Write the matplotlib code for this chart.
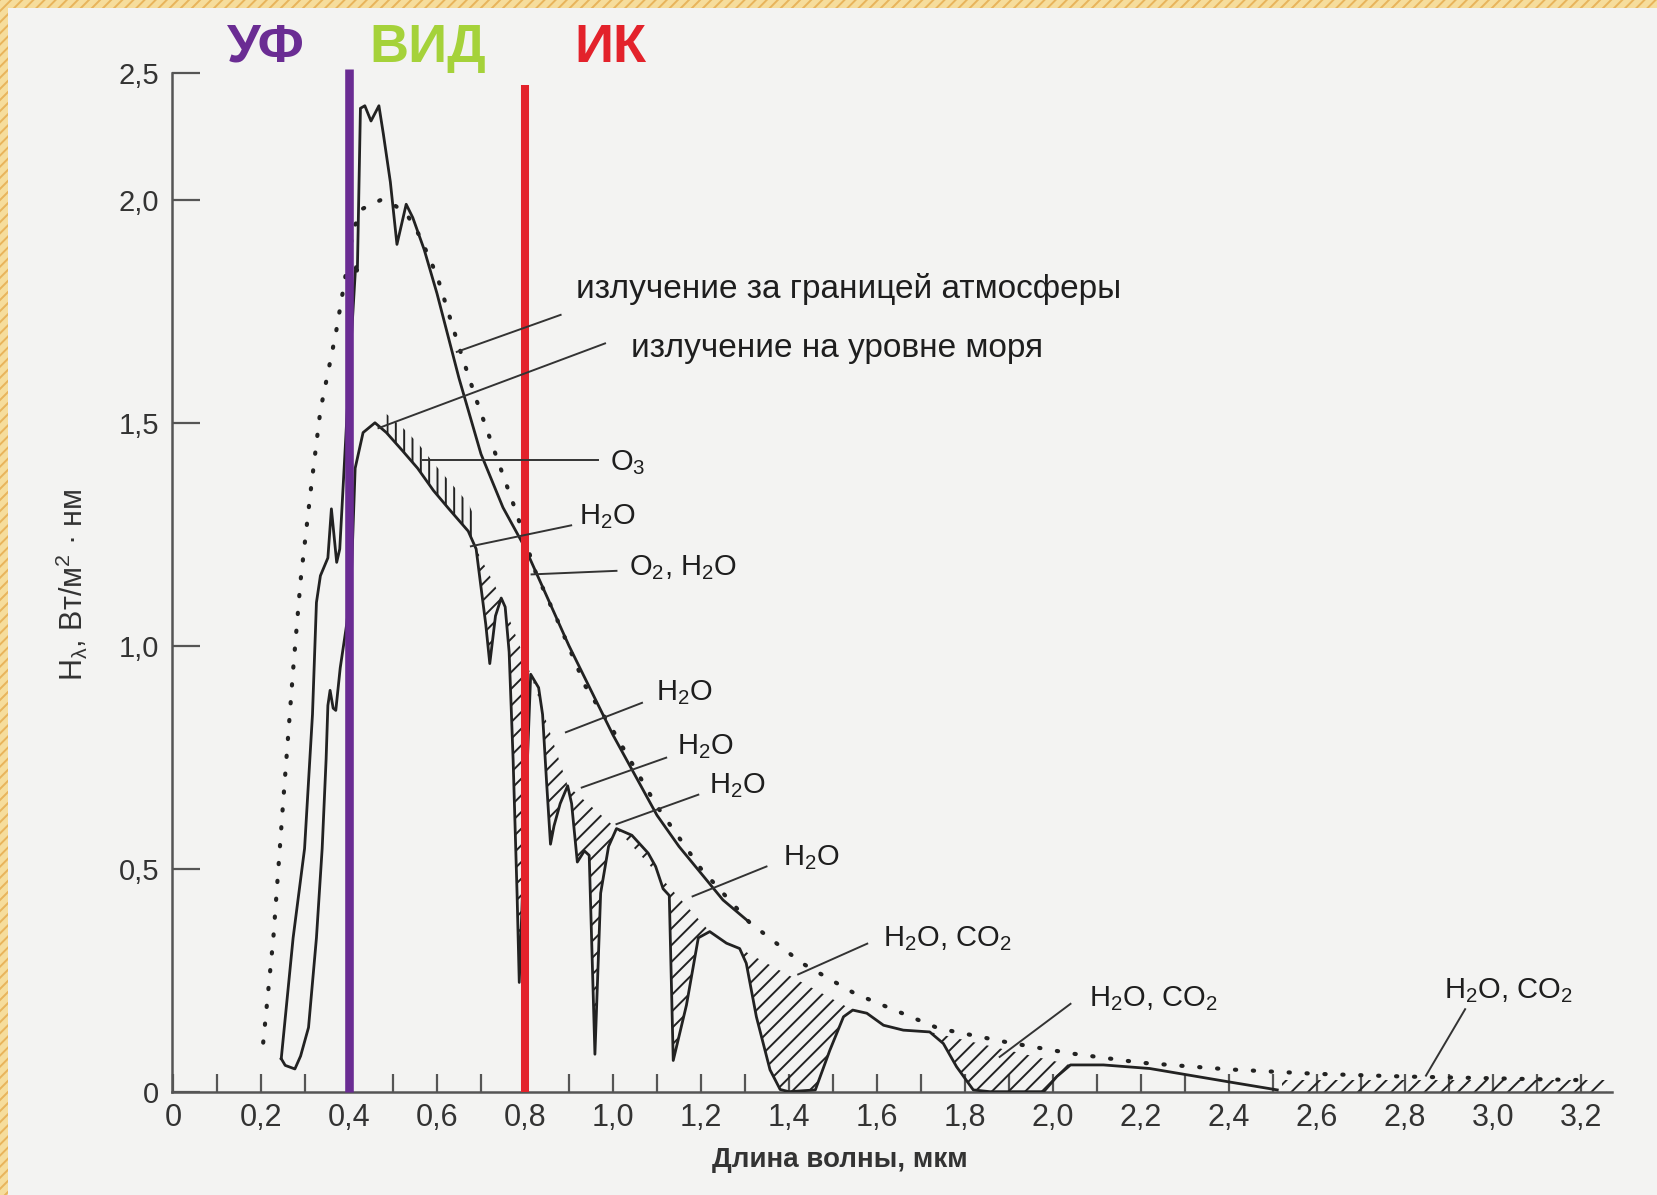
import matplotlib.pyplot as plt
import numpy as np
from matplotlib.patches import Rectangle

plt.rcParams["font.family"] = ["Liberation Sans", "DejaVu Sans"]
plt.rcParams["mathtext.fontset"] = "custom"
plt.rcParams["mathtext.rm"] = "Liberation Sans"
plt.rcParams["mathtext.it"] = "Liberation Sans:italic"
plt.rcParams["hatch.linewidth"] = 1.4

# blackbody-like dotted curve (x in um, y in W/m2/nm)
DOT_X = [0.205, 0.228, 0.25, 0.273, 0.29, 0.313, 0.335, 0.37, 0.41, 0.431, 0.473, 0.50, 0.53,
         0.56, 0.60, 0.65, 0.69, 0.733, 0.78, 0.822, 0.877, 0.937, 1.0, 1.1, 1.2, 1.31, 1.43,
         1.55, 1.74, 1.9, 2.04, 2.2, 2.4, 2.6, 2.8, 3.0, 3.2]
DOT_Y = [0.11, 0.344, 0.645, 0.946, 1.147, 1.348, 1.528, 1.70, 1.935, 1.98, 2.0, 1.99, 1.97,
         1.92, 1.83, 1.67, 1.55, 1.43, 1.30, 1.17, 1.05, 0.91, 0.81, 0.64, 0.50, 0.38, 0.288,
         0.22, 0.142, 0.11, 0.086, 0.065, 0.05, 0.04, 0.034, 0.03, 0.026]

# radiation outside the atmosphere (solid)
ET_X = [0.246, 0.273, 0.299, 0.317, 0.326, 0.335, 0.352, 0.36, 0.366, 0.372, 0.379, 0.40,
        0.415, 0.419, 0.426, 0.436, 0.45, 0.468, 0.478, 0.494, 0.509, 0.53, 0.545, 0.571,
        0.60, 0.65, 0.70, 0.75, 0.80, 0.85, 0.90, 0.95, 1.0, 1.05, 1.1, 1.15, 1.2, 1.25, 1.31]
ET_Y = [0.074, 0.345, 0.545, 0.846, 1.097, 1.157, 1.197, 1.307, 1.247, 1.187, 1.217, 1.60,
        1.85, 1.84, 2.36, 2.37, 2.31, 2.37, 2.26, 2.07, 1.90, 1.99, 1.96, 1.888,
        1.79, 1.60, 1.43, 1.31, 1.22, 1.11, 1.00, 0.90, 0.80, 0.71, 0.62, 0.55, 0.49, 0.43, 0.38]

# radiation at sea level (solid)
SEA_X = [0.246, 0.255, 0.277, 0.29, 0.308, 0.326, 0.339, 0.348, 0.352, 0.357, 0.364, 0.37,
         0.38, 0.395, 0.405, 0.414, 0.432, 0.459, 0.485, 0.521, 0.556, 0.592, 0.627, 0.671,
         0.689, 0.698, 0.711, 0.72, 0.733, 0.746, 0.755, 0.764, 0.773, 0.782, 0.787, 0.80,
         0.813, 0.831, 0.84, 0.849, 0.858, 0.866, 0.88, 0.897, 0.906, 0.919, 0.935, 0.946,
         0.959, 0.972, 0.99, 1.008, 1.043, 1.08, 1.097, 1.114, 1.128, 1.137, 1.167, 1.194,
         1.22, 1.258, 1.288, 1.303, 1.326, 1.357, 1.38, 1.40, 1.46, 1.493, 1.524, 1.545,
         1.577, 1.615, 1.66, 1.72, 1.751, 1.781, 1.819, 1.857, 1.979, 2.009, 2.04, 2.115,
         2.22, 2.31, 2.40, 2.51]
SEA_Y = [0.074, 0.059, 0.051, 0.08, 0.144, 0.345, 0.545, 0.746, 0.866, 0.90, 0.86, 0.855,
         0.95, 1.05, 1.147, 1.398, 1.478, 1.50, 1.478, 1.438, 1.398, 1.348, 1.307, 1.257,
         1.217, 1.147, 1.047, 0.96, 1.067, 1.107, 1.087, 0.986, 0.746, 0.445, 0.245, 0.60,
         0.936, 0.906, 0.846, 0.696, 0.555, 0.596, 0.646, 0.686, 0.646, 0.515, 0.54, 0.53,
         0.084, 0.445, 0.55, 0.59, 0.575, 0.535, 0.505, 0.455, 0.44, 0.07, 0.194, 0.345,
         0.359, 0.333, 0.321, 0.288, 0.168, 0.049, 0.005, 0.0, 0.004, 0.093, 0.168, 0.183,
         0.176, 0.149, 0.138, 0.134, 0.108, 0.056, 0.004, 0.0, 0.0, 0.034, 0.06, 0.06,
         0.052, 0.037, 0.022, 0.004]

# absorption bands: hatched between the sea-level curve and the chord joining its ends
BANDS = [(0.689, 0.746), (0.746, 0.813), (0.813, 0.897), (0.897, 1.008),
         (1.008, 1.22), (1.288, 1.545), (1.72, 2.04)]
O3_X = [0.485, 0.521, 0.556, 0.592, 0.627, 0.671, 0.689]
O3_TOP = [1.52, 1.49, 1.455, 1.41, 1.37, 1.32, 1.28]
TAIL_X = [2.52, 3.26]
TAIL_TOP = 0.026

# (text, text_x, text_y, leader_x0, leader_y0, leader_x1, leader_y1)
NOTES = [
    ("излучение за границей атмосферы", 0.917, 1.80, 0.881, 1.742, 0.645, 1.659),
    ("излучение на уровне моря", 1.042, 1.666, 0.982, 1.678, 0.467, 1.488),
    ("O$_3$", 0.994, 1.41, 0.965, 1.417, 0.568, 1.417),
    ("H$_2$O", 0.922, 1.29, 0.905, 1.27, 0.677, 1.223),
    ("O$_2$, H$_2$O", 1.037, 1.175, 1.008, 1.168, 0.815, 1.16),
    ("H$_2$O", 1.097, 0.896, 1.066, 0.872, 0.893, 0.806),
    ("H$_2$O", 1.145, 0.773, 1.121, 0.749, 0.929, 0.682),
    ("H$_2$O", 1.218, 0.687, 1.194, 0.666, 1.008, 0.60),
    ("H$_2$O", 1.386, 0.524, 1.349, 0.505, 1.181, 0.438),
    ("H$_2$O, CO$_2$", 1.614, 0.344, 1.578, 0.332, 1.421, 0.263),
    ("H$_2$O, CO$_2$", 2.083, 0.209, 2.04, 0.197, 1.879, 0.078),
    ("H$_2$O, CO$_2$", 2.889, 0.227, 2.937, 0.185, 2.848, 0.036),
]

X_TICKS = np.round(np.arange(0, 3.21, 0.1), 1)
Y_TICKS = [0, 0.5, 1.0, 1.5, 2.0, 2.5]


def forward(y):
    y = np.asarray(y, dtype=float)
    return np.where(y <= 2.0, y, 2.0 + (y - 2.0) * 0.57)


def inverse(z):
    z = np.asarray(z, dtype=float)
    return np.where(z <= 2.0, z, 2.0 + (z - 2.0) / 0.57)


def comma(v):
    return f"{v:.1f}".replace(".", ",") if v != 0 else "0"


fig = plt.figure(figsize=(16.57, 11.95), dpi=100, facecolor="#f3f3f2")
# decorative slide frame
for rect in [(0, 1 - 8 / 1195, 1, 8 / 1195), (0, 0, 8 / 1657, 1)]:
    fig.patches.append(Rectangle(rect[:2], rect[2], rect[3], transform=fig.transFigure,
                                 facecolor="#f6dd9c", edgecolor="#e8b45c", hatch="///",
                                 linewidth=0, zorder=0))

ax = fig.add_axes([171.7 / 1657, 0.08645, 0.869, 0.8527])
ax.set_facecolor("none")
ax.set_yscale("function", functions=(forward, inverse))
ax.set_xlim(-0.003, 3.27)
ax.set_ylim(0, 2.5)

ink = "#222222"
ax.plot(DOT_X, DOT_Y, color=ink, lw=3.0, linestyle=(0, (0.3, 4.0)),
        dash_capstyle="round", zorder=2)
ax.plot(ET_X, ET_Y, color=ink, lw=2.0, zorder=3)
ax.plot(SEA_X, SEA_Y, color=ink, lw=2.0, zorder=3)

sea_x = np.array(SEA_X)
sea_y = np.array(SEA_Y)
for lo, hi in BANDS:
    m = (sea_x >= lo) & (sea_x <= hi)
    ax.fill(sea_x[m], sea_y[m], facecolor="none", edgecolor=ink, hatch="//",
            linewidth=0, zorder=2)
m = (sea_x >= O3_X[0]) & (sea_x <= O3_X[-1])
ax.fill(np.r_[sea_x[m], O3_X[::-1]], np.r_[sea_y[m], O3_TOP[::-1]],
        facecolor="none", edgecolor=ink, hatch="||", linewidth=0, zorder=2)
ax.fill_between(TAIL_X, 0, TAIL_TOP, facecolor="none", edgecolor=ink, hatch="//",
                linewidth=0, zorder=2)

ax.vlines(0.4, 0, 2.515, color="#6a2c93", lw=6.2, zorder=4, clip_on=False)
ax.vlines(0.8, 0, 2.45, color="#e3222b", lw=5.8, zorder=4, clip_on=False)

for text, tx, ty, x0, y0, x1, y1 in NOTES:
    ax.plot([x0, x1], [y0, y1], color="#333333", lw=1.4, zorder=5)
    size = 24 if text.startswith("излучение") else 21
    ax.text(tx, ty, text, fontsize=size, color="#1e1e1e", ha="left", va="center", zorder=6)

spine_color = "#555555"
for side in ["top", "right"]:
    ax.spines[side].set_visible(False)
for side in ["left", "bottom"]:
    ax.spines[side].set_color(spine_color)
    ax.spines[side].set_linewidth(1.8)

ax.set_xticks(X_TICKS)
ax.set_xticklabels([comma(v) if round(v * 10) % 2 == 0 else "" for v in X_TICKS])
ax.set_yticks(Y_TICKS)
ax.set_yticklabels([comma(v) for v in Y_TICKS])
ax.tick_params(axis="x", direction="in", length=13, width=1.6, color=spine_color,
               labelsize=22, labelcolor="#333333", pad=8)
ax.tick_params(axis="y", direction="in", length=20, width=1.6, color=spine_color,
               labelsize=21, labelcolor="#333333", pad=9)

fig.text(840 / 1657, 1 - 1160 / 1195, "Длина волны, мкм", fontsize=20, fontweight="bold",
         color="#333333", ha="center", va="center")
fig.text(72 / 1657, 1 - 585 / 1195, r"H$_\mathrm{λ}$, Вт/м$^2$ · нм", fontsize=22,
         color="#333333", rotation=90, ha="center", va="center")

fig.text(266 / 1657, 0.960, "УФ", fontsize=39, fontweight="bold", color="#6a2c93",
         ha="center", va="center")
fig.text(428 / 1657, 0.960, "ВИД", fontsize=39, fontweight="bold", color="#a5d23a",
         ha="center", va="center")
fig.text(610 / 1657, 0.960, "ИК", fontsize=39, fontweight="bold", color="#e3222b",
         ha="center", va="center")

fig.savefig("out.png", dpi=100, facecolor=fig.get_facecolor())
